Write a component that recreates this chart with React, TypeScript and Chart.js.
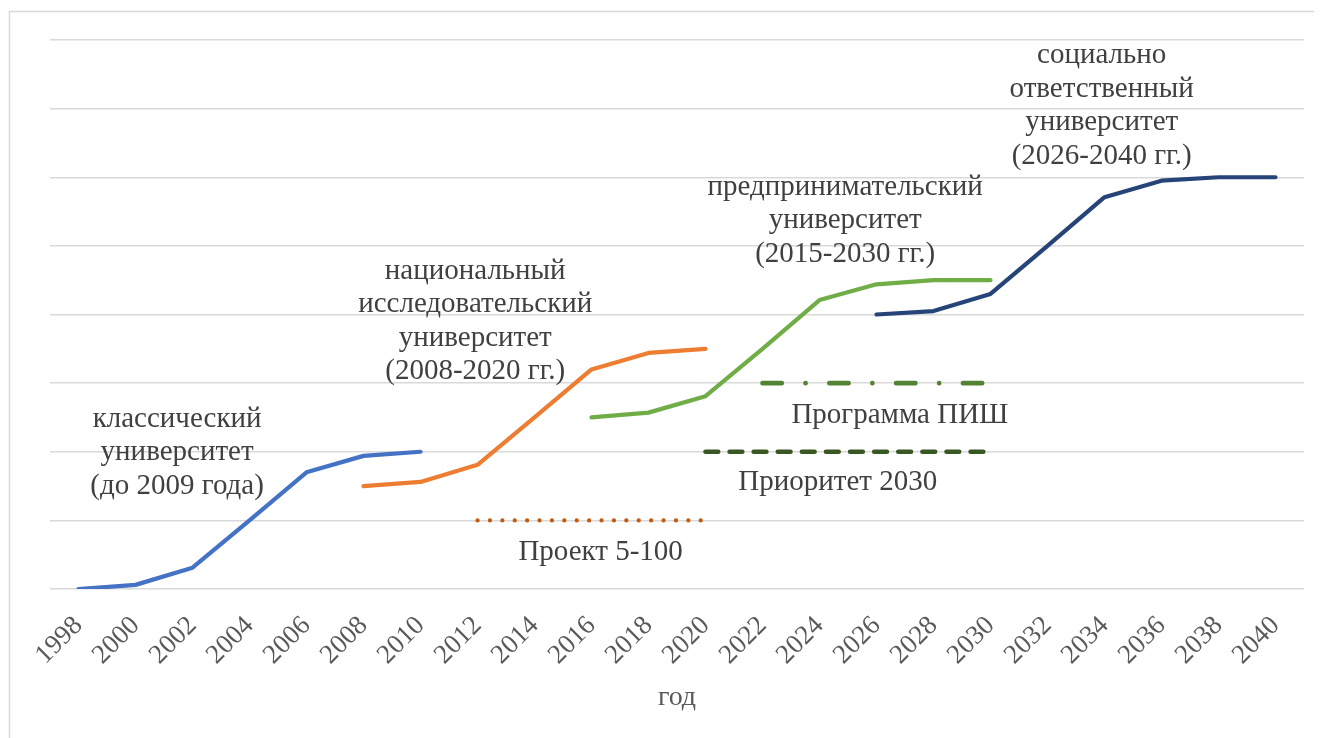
import React, { useEffect, useRef } from "react";
import { Chart, registerables } from "chart.js";

Chart.register(...registerables);

const years: string[] = [
  "1998", "2000", "2002", "2004", "2006", "2008", "2010", "2012", "2014", "2016", "2018",
  "2020", "2022", "2024", "2026", "2028", "2030", "2032", "2034", "2036", "2038", "2040",
];

const N = null;
const classicUni: (number | null)[] = [0, 0.06, 0.31, 1.0, 1.7, 1.94, 2.0, N, N, N, N, N, N, N, N, N, N, N, N, N, N, N];
const researchUni: (number | null)[] = [N, N, N, N, N, 1.5, 1.56, 1.81, 2.5, 3.2, 3.44, 3.5, N, N, N, N, N, N, N, N, N, N];
const entrepreneurUni: (number | null)[] = [N, N, N, N, N, N, N, N, N, 2.5, 2.57, 2.81, 3.5, 4.21, 4.44, 4.5, 4.5, N, N, N, N, N];
const socialUni: (number | null)[] = [N, N, N, N, N, N, N, N, N, N, N, N, N, N, 4.0, 4.05, 4.3, 5.0, 5.71, 5.95, 6.0, 6.0];
const project5100: (number | null)[] = [N, N, N, N, N, N, N, 1, 1, 1, 1, 1, N, N, N, N, N, N, N, N, N, N];
const priority2030: (number | null)[] = [N, N, N, N, N, N, N, N, N, N, N, 2, 2, 2, 2, 2, 2, N, N, N, N, N];
const pishProgram: (number | null)[] = [N, N, N, N, N, N, N, N, N, N, N, N, 3, 3, 3, 3, 3, N, N, N, N, N];

const yMin = 0;
const yMax = 8;
const yStep = 1;

const axisTitle = "год";

// text blocks: anchor x as (fractional) category index, y as value of first baseline
const annotations: { lines: string[]; xIndex: number; yValue: number }[] = [
  { lines: ["классический", "университет", "(до 2009 года)"], xIndex: 1.73, yValue: 2.36 },
  { lines: ["национальный", "исследовательский", "университет", "(2008-2020 гг.)"], xIndex: 6.96, yValue: 4.52 },
  { lines: ["предпринимательский", "университет", "(2015-2030 гг.)"], xIndex: 13.45, yValue: 5.74 },
  { lines: ["социально", "ответственный", "университет", "(2026-2040 гг.)"], xIndex: 17.95, yValue: 7.66 },
  { lines: ["Программа ПИШ"], xIndex: 14.41, yValue: 2.42 },
  { lines: ["Приоритет 2030"], xIndex: 13.32, yValue: 1.44 },
  { lines: ["Проект 5-100"], xIndex: 9.16, yValue: 0.42 },
];

const SERIF = "'Liberation Serif', 'Times New Roman', serif";

export default function App() {
  const ref = useRef<HTMLCanvasElement | null>(null);

  useEffect(() => {
    if (!ref.current) return;

    const framePlugin = {
      id: "frame",
      beforeDraw(chart: any) {
        const ctx = chart.ctx;
        ctx.save();
        ctx.fillStyle = "#ffffff";
        ctx.fillRect(0, 0, chart.width, chart.height);
        ctx.strokeStyle = "#d9d9d9";
        ctx.lineWidth = 1.5;
        ctx.beginPath();
        ctx.moveTo(1.5, chart.height);
        ctx.lineTo(1.5, 3.5);
        ctx.lineTo(chart.width, 3.5);
        ctx.stroke();
        ctx.restore();
      },
    };

    const textPlugin = {
      id: "texts",
      afterDatasetsDraw(chart: any) {
        const ctx = chart.ctx;
        const xs = chart.scales.x;
        const ys = chart.scales.y;
        ctx.save();
        ctx.font = `29px ${SERIF}`;
        ctx.fillStyle = "#404040";
        ctx.textAlign = "center";
        ctx.textBaseline = "alphabetic";
        annotations.forEach((a) => {
          const x = xs.getPixelForValue(a.xIndex);
          const y0 = ys.getPixelForValue(a.yValue);
          a.lines.forEach((ln, i) => ctx.fillText(ln, x, y0 + i * 33.4));
        });
        ctx.restore();
      },
    };

    const common = {
      pointRadius: 0,
      pointHoverRadius: 0,
      borderCapStyle: "round",
      borderJoinStyle: "round",
      spanGaps: false,
      tension: 0,
      fill: false,
    };

    const chart = new Chart(ref.current, {
      type: "line",
      data: {
        labels: years,
        datasets: [
          { ...common, label: "классический", data: classicUni, borderColor: "#4472C4", borderWidth: 4.2 },
          { ...common, label: "национальный", data: researchUni, borderColor: "#ED7D31", borderWidth: 4.2 },
          { ...common, label: "предпринимательский", data: entrepreneurUni, borderColor: "#70AD47", borderWidth: 4.2 },
          { ...common, label: "социально ответственный", data: socialUni, borderColor: "#264478", borderWidth: 4.2 },
          { ...common, label: "Проект 5-100", data: project5100, borderColor: "#C55A11", borderWidth: 4.2, borderDash: [0.1, 12.3] },
          { ...common, label: "Приоритет 2030", data: priority2030, borderColor: "#385723", borderWidth: 4.6, borderDash: [12.7, 11.4] },
          { ...common, label: "Программа ПИШ", data: pishProgram, borderColor: "#548235", borderWidth: 4.6, borderDash: [19.3, 23.7, 0.1, 23.7] },
        ] as any,
      },
      options: {
        responsive: false,
        animation: false,
        devicePixelRatio: 1,
        layout: { padding: { left: 42, right: 18, top: 32, bottom: 0 } },
        plugins: {
          legend: { display: false },
          tooltip: { enabled: false },
        },
        scales: {
          x: {
            type: "category",
            offset: true,
            grid: { display: false, drawTicks: false },
            border: { display: false },
            ticks: {
              autoSkip: false,
              maxRotation: 45,
              minRotation: 45,
              color: "#595959",
              padding: 21,
              font: { family: SERIF, size: 27 },
            },
            title: {
              display: true,
              text: axisTitle,
              color: "#595959",
              font: { family: SERIF, size: 28 },
              padding: { top: 0, bottom: 24 },
            },
            afterFit: (scale: any) => {
              scale.height = 149;
            },
          },
          y: {
            min: yMin,
            max: yMax,
            ticks: { display: false, stepSize: yStep },
            grid: { color: "#d9d9d9", lineWidth: 1.4, drawTicks: false },
            border: { display: false },
            afterFit: (scale: any) => {
              scale.width = 0;
            },
          },
        },
      } as any,
      plugins: [framePlugin, textPlugin],
    });

    return () => chart.destroy();
  }, []);

  return (
    <div style={{ width: 1314, height: 730 }}>
      <canvas ref={ref} width={1314} height={730} style={{ display: "block", width: 1314, height: 730 }} />
    </div>
  );
}
